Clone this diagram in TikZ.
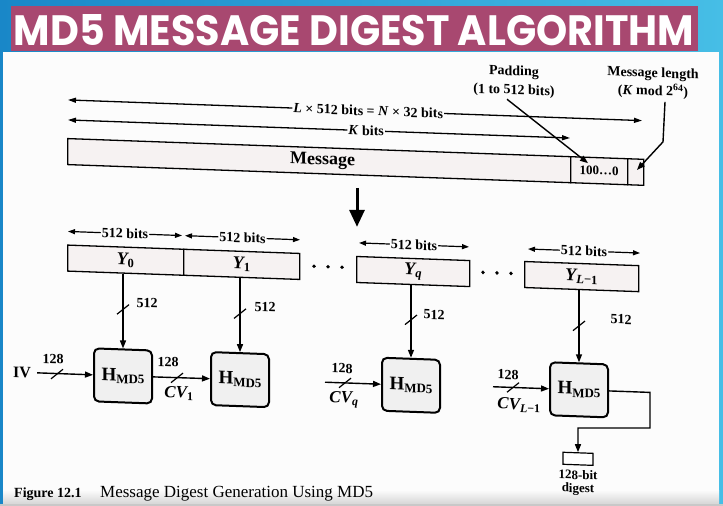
\documentclass[tikz,border=0pt]{standalone}
\usepackage{fontspec}
\setmainfont{Liberation Serif}
\newfontfamily\titlefont{Poppins}
\usetikzlibrary{arrows.meta}
\definecolor{banner}{RGB}{168,72,112}
\definecolor{bgA}{RGB}{25,135,200}
\definecolor{bgB}{RGB}{70,190,230}
\definecolor{pagecol}{RGB}{252,252,252}
\definecolor{boxfill}{RGB}{246,242,242}
\definecolor{hfill}{RGB}{240,240,240}
\definecolor{stripgray}{RGB}{200,200,200}
\tikzset{
  arr/.style={line width=1.4pt, -{Triangle[length=8pt,width=6pt]}},
  darr/.style={line width=1.2pt, {Triangle[length=7pt,width=5pt]}-{Triangle[length=7pt,width=5pt]}},
  lbl/.style={font=\bfseries\fontsize{14}{16}\selectfont, inner sep=1pt},
  wl/.style={lbl, fill=pagecol},
  cell/.style={draw, line width=1.3pt, fill=boxfill, inner sep=0pt, minimum height=26pt, anchor=north west},
  hbox/.style={draw, line width=2pt, rounded corners=5pt, fill=hfill, minimum width=58pt, minimum height=53pt, inner sep=0pt, font=\bfseries\fontsize{19}{19}\selectfont},
  slash/.style={line width=1.2pt},
  cv/.style={font=\bfseries\itshape\fontsize{17}{17}\selectfont, inner sep=1pt},
  ylab/.style={font=\bfseries\itshape\fontsize{18}{18}\selectfont},
}
\newcommand{\hmd}{H\raisebox{-0.3ex}{\fontsize{13}{13}\selectfont MD5}}
\begin{document}
\begin{tikzpicture}[x=1pt,y=-1pt]
\useasboundingbox (0,0) rectangle (723,506);
% background
\shade[left color=bgA, right color=bgB] (0,0) rectangle (723,506);
\fill[pagecol] (3,52) rectangle (719,506);
\shade[top color=pagecol, bottom color=stripgray!70] (3,490) rectangle (719,503);
% title banner
\fill[banner] (11,6) rectangle (698,51);
\node[text=white, inner sep=0pt] (title) at (354,30) {\resizebox{680pt}{31pt}{\titlefont\bfseries MD5 MESSAGE DIGEST ALGORITHM}};

\begin{scope}[yslant=-0.036, transform shape]
% length arrows
\coordinate (LA) at (68,97.5);
\coordinate (LB) at (642,97.5);
\draw[line width=1.3pt, {Triangle[length=8pt,width=5pt]}-{Triangle[length=8pt,width=5pt]}] (LA) -- node[wl, pos=0.523] (Ltxt) {\textit{L} × 512 bits = \textit{N} × 32 bits} (LB);
\coordinate (KA) at (68,117.5);
\coordinate (KB) at (570,117.5);
\draw[line width=1.3pt, {Triangle[length=8pt,width=5pt]}-{Triangle[length=8pt,width=5pt]}] (KA) -- node[wl, pos=0.594] (Ktxt) {\textit{K} bits} (KB);

% message box
\node[cell, minimum width=503pt, font=\bfseries\fontsize{18}{18}\selectfont] (msg) at (67,135.5) {\hspace*{7pt}Message};
\node[cell, minimum width=57pt, font=\bfseries\fontsize{13}{13}\selectfont] (pad) at (570,135.5) {100…0};
\node[cell, minimum width=16pt] (len) at (627,135.5) {};

% padding / length labels
\node[lbl, align=center, font=\bfseries\fontsize{14}{19}\selectfont] (padlbl) at (514,63) {Padding\\(1 to 512 bits)};
\node[lbl, align=center, font=\bfseries\fontsize{14}{18}\selectfont] (lenlbl) at (653,59.5) {Message length\\(\textit{K} mod 2\textsuperscript{64})};
\coordinate (padS) at (507,81);
\coordinate (padT) at (588,142);
\draw[arr] (padS) -- (padT);
\coordinate (lenS) at (665,78);
\coordinate (lenB) at (663,118);
\coordinate (lenT) at (637,147);
\draw[arr] (lenS) -- (lenB) -- (lenT);

% big arrow
\coordinate (bigA) at (357,175);
\coordinate (bigB) at (357,214);
\draw[line width=3pt, -{Triangle[length=17pt,width=15pt]}] (bigA) -- (bigB);

% Y blocks
\node[cell, minimum width=116pt, ylab] (Y0) at (67,242) {\textit{Y}\textsubscript{\textup{0}}};
\node[cell, minimum width=116pt, ylab] (Y1) at (183,242) {\textit{Y}\textsubscript{\textup{1}}};
\node[cell, minimum width=113pt, ylab] (Yq) at (356,243) {\textit{Y}\textsubscript{\textit{q}}};
\node[cell, minimum width=114pt, ylab] (YL) at (524,242) {\textit{Y}\textsubscript{\textit{L}\textup{−1}}};

\coordinate (b0l) at (68,229); \coordinate (b0r) at (182,229);
\coordinate (b1l) at (185,229); \coordinate (b1r) at (300,229);
\coordinate (bql) at (359,230); \coordinate (bqr) at (469,230);
\coordinate (bLl) at (528,230); \coordinate (bLr) at (640,230);
\draw[darr] (b0l) -- node[wl] (t0) {512 bits} (b0r);
\draw[darr] (b1l) -- node[wl] (t1) {512 bits} (b1r);
\draw[darr] (bql) -- node[wl] (tq) {512 bits} (bqr);
\draw[darr] (bLl) -- node[wl] (tL) {512 bits} (bLr);

% dots
\foreach \dx in {314,328,342,483,497,511} \fill (\dx,255) circle (1.9pt);

% H boxes
\node[hbox] (H1) at (123,371.5) {\hmd};
\node[hbox] (H2) at (240,371) {\hmd};
\node[hbox] (Hq) at (411,370.5) {\hmd};
\node[hbox] (HL) at (579,369) {\hmd};

% vertical connectors
\draw[arr] (H1.north |- Y0.south) -- (H1.north);
\draw[arr] (H2.north |- Y1.south) -- (H2.north);
\draw[arr] (Hq.north |- Yq.south) -- (Hq.north);
\draw[arr] (HL.north |- YL.south) -- (HL.north);
\draw[slash] (117,310) -- (129,300);
\draw[slash] (234,310) -- (246,300);
\draw[slash] (405,310) -- (417,300);
\draw[slash] (573,310) -- (585,300);
\node[lbl] (n0) at (147,298) {512};
\node[lbl] (n1) at (265,297.5) {512};
\node[lbl] (nq) at (434,299) {512};
\node[lbl] (nL) at (621,297) {512};

% horizontal inputs
\node[lbl, font=\bfseries\fontsize{16}{16}\selectfont] (IV) at (22,371.5) {IV};
\draw[arr, shorten <=5pt] (IV) -- (H1);
\draw[slash] (51,377) -- (63,367);
\node[lbl] (i0) at (53,357) {128};

\draw[arr] (H1) -- (H2);
\draw[slash] (171,376.5) -- (183,366.5);
\node[lbl] (i1) at (168,356) {128};
\node[cv] (cv1) at (179,387) {\textit{CV}\textsubscript{\textup{1}}};

\coordinate (cvq) at (325,370.5);
\draw[arr] (cvq) -- (Hq);
\draw[slash] (339,375.5) -- (351,365.5);
\node[lbl] (iq) at (342,356) {128};
\node[cv] (cvqt) at (344,387.5) {\textit{CV}\textsubscript{\textit{q}}};

\coordinate (cvl) at (493,369);
\draw[arr] (cvl) -- (HL);
\draw[slash] (507,374) -- (519,364);
\node[lbl] (iL) at (508,356.5) {128};
\node[cv] (cvLt) at (519,386.5) {\textit{CV}\textsubscript{\textit{L}\textup{−1}}};

% output
\node[draw, line width=1.2pt, fill=white, minimum width=30pt, minimum height=12pt, inner sep=0pt] (dig) at (578,438) {};
\coordinate (o1) at (650,369);
\coordinate (o2) at (650,404.6);
\coordinate (o3) at (578,407.2);
\draw[arr] (HL.east) -- (o1) -- (o2) -- (o3) -- (dig.north);
\node[lbl, align=center, font=\bfseries\fontsize{13}{13}\selectfont] (diglbl) at (578,462) {128-bit\\digest};
\end{scope}

% caption
\node[anchor=west, inner sep=0pt, font=\bfseries\fontsize{14}{14}\selectfont] (fig) at (14,494) {Figure 12.1};
\node[anchor=west, inner sep=0pt, font=\fontsize{17}{17}\selectfont] (cap) at (100,494) {Message Digest Generation Using MD5};
\fill[stripgray] (0,504) rectangle (723,506);
\end{tikzpicture}
\end{document}
